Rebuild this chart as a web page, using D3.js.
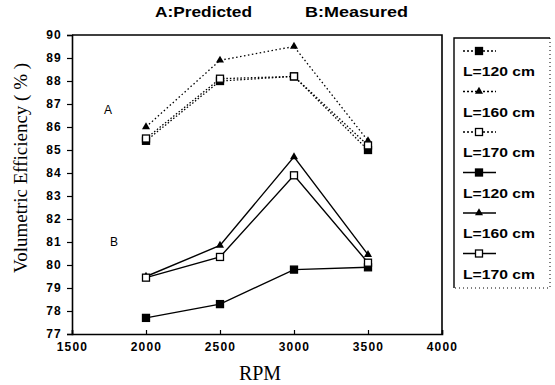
<!DOCTYPE html>
<html>
<head>
<meta charset="utf-8">
<script src="https://cdn.jsdelivr.net/npm/d3@7/dist/d3.min.js"></script>
<style>
  body { margin: 0; background: #fff; }
  svg { display: block; }
</style>
</head>
<body>
<div id="chart"></div>
<script>
const rpm = [2000, 2500, 3000, 3500];
const predicted120 = [85.4, 88.0, 88.2, 85.0];
const predicted160 = [86.0, 88.9, 89.5, 85.4];
const predicted170 = [85.5, 88.1, 88.2, 85.2];
const measured120 = [77.7, 78.3, 79.8, 79.9];
const measured160 = [79.5, 80.85, 84.7, 80.45];
const measured170 = [79.45, 80.35, 83.9, 80.1];
const xTicks = [1500, 2000, 2500, 3000, 3500, 4000];
const yTicks = [77, 78, 79, 80, 81, 82, 83, 84, 85, 86, 87, 88, 89, 90];
const legendLabels = ['L=120 cm', 'L=160 cm', 'L=170 cm', 'L=120 cm', 'L=160 cm', 'L=170 cm'];

const width = 555, height = 385;
const margin = { top: 35, right: 113, bottom: 51, left: 72 };
const w = width - margin.left - margin.right;
const h = height - margin.top - margin.bottom;

const svg = d3.select('#chart').append('svg')
  .attr('width', width)
  .attr('height', height);

const g = svg.append('g')
  .attr('transform', `translate(${margin.left}, ${margin.top})`);

const x = d3.scaleLinear().domain([1500, 4000]).range([0, w]);
const y = d3.scaleLinear().domain([77, 90]).range([h, 0]);

const tickFont = '"Liberation Sans", Arial, sans-serif';
const serifFont = '"Liberation Serif", "Times New Roman", serif';

// axes
const xAxis = g.append('g')
  .attr('transform', `translate(0, ${h})`)
  .call(d3.axisBottom(x).tickValues(xTicks).tickSize(-4).tickPadding(8).tickFormat(d3.format('d')));
const yAxis = g.append('g')
  .call(d3.axisLeft(y).tickValues(yTicks).tickSize(5).tickPadding(5).tickFormat(d3.format('d')));

[xAxis, yAxis].forEach(a => {
  a.select('.domain').attr('stroke', '#000').attr('stroke-width', 1.6);
  a.selectAll('.tick line').attr('stroke', '#000').attr('stroke-width', 1.2);
  a.selectAll('text')
    .attr('font-family', tickFont)
    .attr('font-weight', 'bold')
    .attr('font-size', 12)
    .attr('letter-spacing', 1.2)
    .attr('fill', '#000');
});

// frame top/right
g.append('path')
  .attr('d', `M0,0H${w}V${h}`)
  .attr('fill', 'none')
  .attr('stroke', '#000')
  .attr('stroke-width', 1.6);

// series
const series = [
  { vals: predicted120, dash: '1.5,2', marker: 'fsquare' },
  { vals: predicted160, dash: '1.5,2.5', marker: 'triangle' },
  { vals: predicted170, dash: '1.5,2', marker: 'osquare' },
  { vals: measured120, dash: null, marker: 'fsquare' },
  { vals: measured160, dash: null, marker: 'triangle' },
  { vals: measured170, dash: null, marker: 'osquare' }
];

const line = d3.line().x(d => x(d[0])).y(d => y(d[1]));

function drawMarker(sel, type, cx, cy) {
  if (type === 'triangle') {
    sel.append('path')
      .attr('d', d3.symbol(d3.symbolTriangle, 28)())
      .attr('transform', `translate(${cx}, ${cy})`)
      .attr('fill', '#000');
  } else {
    sel.append('rect')
      .attr('x', cx - 3.5).attr('y', cy - 3.5)
      .attr('width', 7).attr('height', 7)
      .attr('fill', type === 'fsquare' ? '#000' : '#fff')
      .attr('stroke', '#000')
      .attr('stroke-width', 1.3);
  }
}

series.forEach(s => {
  const pts = rpm.map((r, i) => [r, s.vals[i]]);
  g.append('path')
    .datum(pts)
    .attr('d', line)
    .attr('fill', 'none')
    .attr('stroke', '#000')
    .attr('stroke-width', s.dash ? 1.3 : 1.4)
    .attr('stroke-dasharray', s.dash);
  pts.forEach(p => drawMarker(g, s.marker, x(p[0]), y(p[1])));
});

// A / B labels
g.append('text').attr('x', 32).attr('y', 79).text('A')
  .attr('font-family', tickFont).attr('font-size', 12);
g.append('text').attr('x', 38).attr('y', 211).text('B')
  .attr('font-family', tickFont).attr('font-size', 12);

// title
svg.append('text').attr('x', 155).attr('y', 17).text('A:Predicted')
  .attr('font-family', tickFont).attr('font-weight', 'bold').attr('font-size', 14)
  .attr('textLength', 97).attr('lengthAdjust', 'spacingAndGlyphs');
svg.append('text').attr('x', 305).attr('y', 17).text('B:Measured')
  .attr('font-family', tickFont).attr('font-weight', 'bold').attr('font-size', 14)
  .attr('textLength', 103).attr('lengthAdjust', 'spacingAndGlyphs');

// axis titles
svg.append('text')
  .attr('x', 260).attr('y', 380)
  .attr('text-anchor', 'middle')
  .attr('font-family', serifFont)
  .attr('font-size', 20)
  .text('RPM');

svg.append('text')
  .attr('transform', 'translate(27, 168) rotate(-90)')
  .attr('text-anchor', 'middle')
  .attr('font-family', serifFont)
  .attr('font-size', 18)
  .attr('textLength', 210)
  .attr('lengthAdjust', 'spacingAndGlyphs')
  .text('Volumetric Efficiency ( % )');

// legend
const legend = svg.append('g').attr('transform', 'translate(454, 38)');
legend.append('path')
  .attr('d', 'M0,250V0H96')
  .attr('fill', 'none').attr('stroke', '#000').attr('stroke-width', 1.4);
legend.append('path')
  .attr('d', 'M96,0V250H0')
  .attr('fill', 'none').attr('stroke', '#000').attr('stroke-width', 1)
  .attr('stroke-dasharray', '1,3');

legendLabels.forEach((lab, i) => {
  const yy = 13 + i * 40.5;
  const s = series[i];
  legend.append('line')
    .attr('x1', 9).attr('x2', 42).attr('y1', yy).attr('y2', yy)
    .attr('stroke', '#000').attr('stroke-width', 1.3)
    .attr('stroke-dasharray', s.dash ? '2,2' : null);
  drawMarker(legend, s.marker, 25, yy);
  legend.append('text')
    .attr('x', 9).attr('y', yy + 25)
    .attr('font-family', tickFont)
    .attr('font-weight', 'bold')
    .attr('font-size', 12.5)
    .attr('textLength', 72)
    .attr('lengthAdjust', 'spacingAndGlyphs')
    .text(lab);
});
</script>
</body>
</html>
